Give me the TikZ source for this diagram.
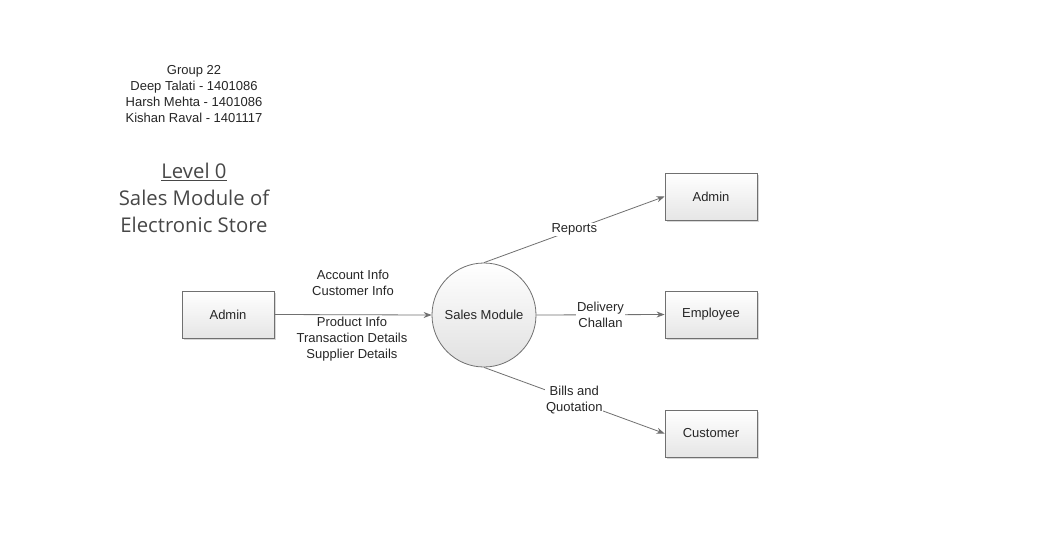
\documentclass[tikz,border=0pt]{standalone}
\usepackage{fontspec}
\setmainfont{Liberation Sans}
\newfontfamily\titlefont{Open Sans}
\usetikzlibrary{arrows.meta,shadows}
\definecolor{edgegray}{HTML}{707070}
\definecolor{txt}{HTML}{262626}
\tikzset{
  entity/.style={draw=edgegray, line width=0.8pt, minimum width=92pt, minimum height=47pt,
    top color=white, bottom color=black!10, font=\fontsize{13}{15}\selectfont, text=txt,
    drop shadow={shadow xshift=1.5pt, shadow yshift=-1.5pt, fill=black!25, opacity=0.6}},
  proc/.style={draw=edgegray, line width=0.8pt, circle, minimum size=104pt, inner sep=0pt,
    top color=white, bottom color=black!12, font=\fontsize{13}{15}\selectfont, text=txt},
  flow/.style={draw=edgegray, line width=0.8pt, -{Stealth[length=8pt,width=6pt]}},
  lbl/.style={font=\fontsize{13}{16}\selectfont, text=txt, align=center, inner sep=1pt},
  lblbg/.style={lbl, fill=white},
  info/.style={font=\fontsize{13}{16}\selectfont, text=txt, align=center},
}
\begin{document}
\begin{tikzpicture}[x=1pt,y=-1pt]
\useasboundingbox[fill=white] (0,0) rectangle (1043,552);
\node[info] (group) at (194,94) {Group 22\\Deep Talati - 1401086\\Harsh Mehta - 1401086\\Kishan Raval - 1401117};
\node[font=\titlefont\fontsize{20.3}{27}\selectfont, text=txt!85, align=center] (title) at (194,197.5)
  {\underline{Level 0}\\Sales Module of\\Electronic Store};
\node[entity] (adminL) at (228,314.5) {Admin};
\node[proc] (sm) at (484,315) {Sales Module};
\node[entity] (adminR) at (711,196.5) {Admin};
\node[entity] (emp) at (711,314.5) {Employee};
\node[entity] (cust) at (711,433.5) {Customer};
\draw[flow] (adminL.east) -- (sm.west);
\node[lbl] (l1) at (353,283) {Account Info\\Customer Info};
\node[lbl] (l2) at (352,339) {Product Info\\Transaction Details\\Supplier Details};
\draw[flow] (sm.north) -- (adminR.west) node[pos=0.5, lblbg] (l3) {Reports};
\draw[flow] (sm.east) -- (emp.west) node[pos=0.5, lblbg] (l4) {Delivery\\Challan};
\draw[flow] (sm.south) -- (cust.west) node[pos=0.5, lblbg] (l5) {Bills and\\Quotation};
\end{tikzpicture}
\end{document}
